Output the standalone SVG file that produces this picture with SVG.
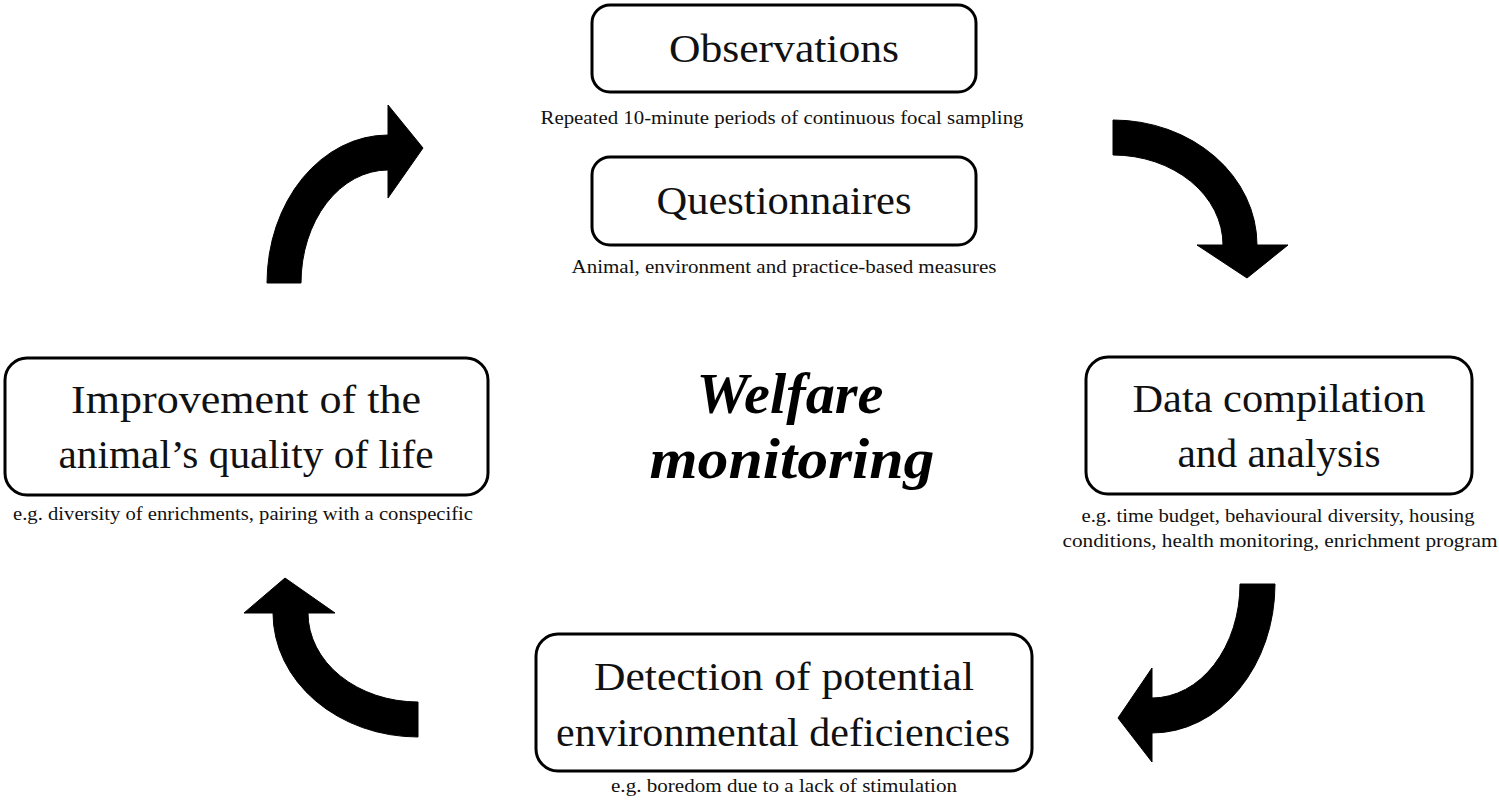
<svg xmlns="http://www.w3.org/2000/svg" width="1499" height="804" viewBox="0 0 1499 804">
<style>
.box{fill:#fff;stroke:#000;stroke-width:3}
.t{font-family:"Liberation Serif","DejaVu Serif",serif;font-size:40px;text-anchor:middle;fill:#111}
.s{font-family:"Liberation Serif","DejaVu Serif",serif;font-size:19px;text-anchor:middle;fill:#111}
.w{font-family:"Liberation Serif","DejaVu Serif",serif;font-size:58px;font-weight:bold;font-style:italic;text-anchor:middle;fill:#000}
.arr{fill:#000;stroke:#000;stroke-width:1}
</style>
<rect width="1499" height="804" fill="#fff"/>
<g id="connectors">
<path class="arr" d="M267,283 A121,148 0 0 1 388,135 L388,105 L423,148 L388,198 L388,170 A87,113 0 0 0 301,283 Z"/>
<path class="arr" d="M1113,120 A144,125 0 0 1 1257,245 L1288,245 L1247,278 L1197,245 L1223,245 A110,90 0 0 0 1113,155 Z"/>
<path class="arr" d="M1240,584 L1275,584 A123,149 0 0 1 1152,733 L1152,762 L1118,718 L1152,668 L1152,698 A88,114 0 0 0 1240,584 Z"/>
<path class="arr" d="M418,737 A145,124 0 0 1 273,613 L244,613 L285,578 L335,613 L308,613 A110,89 0 0 0 418,702 Z"/>
</g>
<g id="observations">
<rect class="box" x="592" y="5" width="384" height="87" rx="18"/>
<text class="t" x="784" y="62" textLength="230" lengthAdjust="spacingAndGlyphs">Observations</text>
<text class="s" x="782" y="124" textLength="483" lengthAdjust="spacingAndGlyphs">Repeated 10-minute periods of continuous focal sampling</text>
</g>
<g id="questionnaires">
<rect class="box" x="592" y="157" width="384" height="88" rx="18"/>
<text class="t" x="784" y="214" textLength="255" lengthAdjust="spacingAndGlyphs">Questionnaires</text>
<text class="s" x="784" y="273" textLength="425" lengthAdjust="spacingAndGlyphs">Animal, environment and practice-based measures</text>
</g>
<g id="improvement">
<rect class="box" x="5" y="358" width="483" height="137" rx="22"/>
<text class="t" x="246" y="413" textLength="350" lengthAdjust="spacingAndGlyphs">Improvement of the</text>
<text class="t" x="246" y="468" textLength="375" lengthAdjust="spacingAndGlyphs">animal’s quality of life</text>
<text class="s" x="243" y="520" textLength="460" lengthAdjust="spacingAndGlyphs">e.g. diversity of enrichments, pairing with a conspecific</text>
</g>
<g id="data">
<rect class="box" x="1086" y="357" width="386" height="137" rx="22"/>
<text class="t" x="1279" y="412" textLength="293" lengthAdjust="spacingAndGlyphs">Data compilation</text>
<text class="t" x="1279" y="467" textLength="203" lengthAdjust="spacingAndGlyphs">and analysis</text>
<text class="s" x="1278" y="522" textLength="393" lengthAdjust="spacingAndGlyphs">e.g. time budget, behavioural diversity, housing</text>
<text class="s" x="1280" y="547" textLength="435" lengthAdjust="spacingAndGlyphs">conditions, health monitoring, enrichment program</text>
</g>
<g id="detection">
<rect class="box" x="536" y="634" width="496" height="137" rx="22"/>
<text class="t" x="784" y="690" textLength="380" lengthAdjust="spacingAndGlyphs">Detection of potential</text>
<text class="t" x="783" y="746" textLength="454" lengthAdjust="spacingAndGlyphs">environmental deficiencies</text>
<text class="s" x="784" y="792" textLength="346" lengthAdjust="spacingAndGlyphs">e.g. boredom due to a lack of stimulation</text>
</g>
<g id="welfare">
<text class="w" x="790" y="413" textLength="187" lengthAdjust="spacingAndGlyphs">Welfare</text>
<text class="w" x="792" y="478" textLength="285" lengthAdjust="spacingAndGlyphs">monitoring</text>
</g>
</svg>
